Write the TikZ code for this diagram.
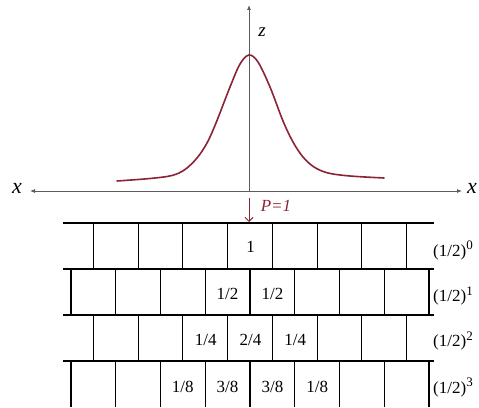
\documentclass[tikz,border=0pt]{standalone}
\usepackage{fontspec}
\setmainfont{Liberation Serif}
\usepackage{tikz}
\usetikzlibrary{arrows.meta,positioning}
\definecolor{maroon}{HTML}{8A2336}
\definecolor{axisgray}{HTML}{5C5C5C}
\newcommand{\halfpow}[1]{(1/2)\raisebox{7pt}{\fontsize{13}{13}\selectfont #1}}

\begin{document}
\begin{tikzpicture}[x=1pt,y=1pt,>=Latex,
    axis/.style={draw=axisgray,line width=0.8pt},
    brick/.style={draw=black,line width=1.1pt},
    num/.style={font=\fontsize{17}{19}\selectfont,inner sep=0pt,anchor=base},
    powlabel/.style={font=\fontsize{17}{19}\selectfont,inner sep=0pt,anchor=base west}]
  \useasboundingbox (0,0) rectangle (479,407);
  % axes
  \coordinate (orig) at (249,216);
  \coordinate (xleft) at (30,216);
  \coordinate (xright) at (462,216);
  \coordinate (ztop) at (249,402);
  \draw[axis,{Latex[length=5pt,width=4pt]}-{Latex[length=5pt,width=4pt]}] (xleft) -- (xright);
  \draw[axis,-{Latex[length=5pt,width=4pt]}] (orig) -- (ztop);
  \node[font=\fontsize{22}{22}\selectfont\itshape,inner sep=0pt] (xlab) at (17,219) {x};
  \node[font=\fontsize{22}{22}\selectfont\itshape,inner sep=0pt] (xlab2) at (472,219) {x};
  \node[font=\fontsize{19}{19}\selectfont\itshape,inner sep=0pt] (zlab) at (262,375) {z};
  % density curve
  \draw[maroon,line width=1.6pt,line cap=round] plot[smooth,tension=0.55] coordinates {
    (117,226) (150,228.5) (172,231.5) (185,237.5) (197,249) (207,264) (216,284)
    (230,320) (240,343) (249,352) (258,345) (270,320) (283,286) (293,265)
    (303,250) (314,240) (328,234) (350,231) (384,229)};
  % drop point
  \coordinate (dropstart) at (249,209);
  \coordinate (dropend) at (249,185);
  \draw[maroon,line width=0.9pt,-{Straight Barb[length=4pt,width=8pt]}] (dropstart) -- (dropend);
  \node[font=\fontsize{17}{17}\selectfont\itshape,text=maroon,inner sep=0pt] (plab) at (276,201) {P=1};
  % rows of pegs
  \foreach \r in {0,...,3}
    \draw[brick] (63,184-46*\r) -- (434,184-46*\r);
  \foreach \r/\off/\n in {0/93.3/7,1/71/8,2/93.3/7,3/71/8}
    \foreach \k in {0,...,\n}
      \draw[brick] (\off+\k*44.75,138-46*\r) -- ++(0,46);
  % probabilities
  \node[num] (r0c1) at (250.5,154) {1};
  \foreach \x/\t [count=\i] in {227.6/1\slash 2,272.4/1\slash 2}
    \node[num] (r1c\i) at (\x,107) {\t};
  \foreach \x/\t [count=\i] in {205.7/1\slash 4,250.5/2\slash 4,295.2/1\slash 4}
    \node[num] (r2c\i) at (\x,61) {\t};
  \foreach \x/\t [count=\i] in {182.8/1\slash 8,227.6/3\slash 8,272.4/3\slash 8,317.2/1\slash 8}
    \node[num] (r3c\i) at (\x,15) {\t};
  % powers
  \node[powlabel] (pow0) at (433,150) {\halfpow{0}};
  \node[powlabel] (pow1) at (433,105) {\halfpow{1}};
  \node[powlabel] (pow2) at (433,60) {\halfpow{2}};
  \node[powlabel] (pow3) at (433,14) {\halfpow{3}};
\end{tikzpicture}
\end{document}
